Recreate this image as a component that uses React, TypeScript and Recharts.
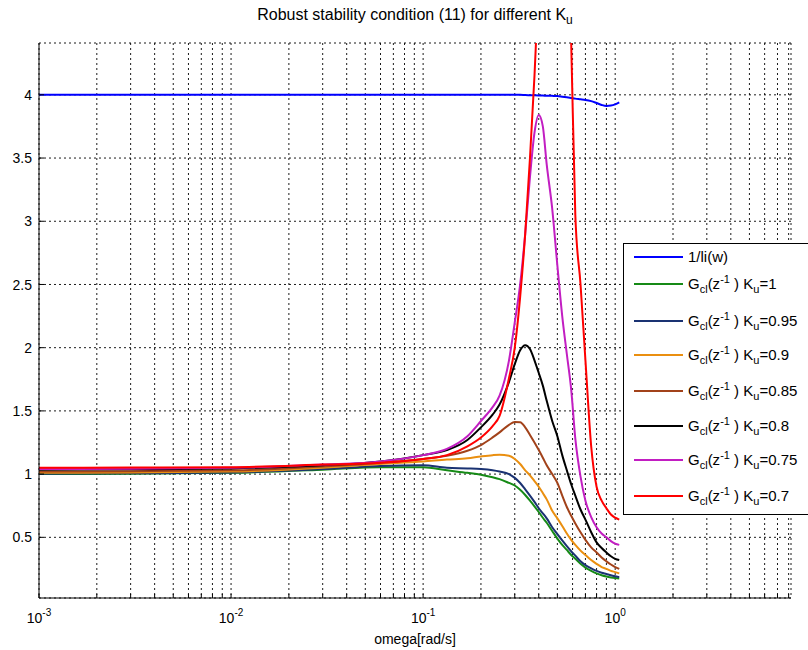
import React from 'react';
import { LineChart, Line, XAxis, YAxis, CartesianGrid } from 'recharts';

const omega = [0.001, 0.003, 0.01, 0.03, 0.06, 0.1, 0.133, 0.17, 0.2, 0.23, 0.25, 0.28, 0.3, 0.32, 0.34, 0.36, 0.38, 0.4, 0.42, 0.44, 0.47, 0.5, 0.53, 0.56, 0.59, 0.62, 0.66, 0.7, 0.75, 0.8, 0.85, 0.9, 0.95, 1.0, 1.05];

const invLi = [4, 4, 4, 4, 4, 4, 4, 4, 4, 4, 4, 4, 4, 4, 3.998, 3.997, 3.996, 3.995, 3.994, 3.993, 3.992, 3.99, 3.985, 3.98, 3.975, 3.97, 3.965, 3.96, 3.95, 3.935, 3.92, 3.912, 3.915, 3.925, 3.94];
const ku100 = [1.0, 1.003, 1.01, 1.035, 1.055, 1.055, 1.03, 1.01, 0.995, 0.975, 0.96, 0.93, 0.91, 0.876, 0.835, 0.79, 0.745, 0.7, 0.655, 0.615, 0.55, 0.49, 0.44, 0.4, 0.36, 0.33, 0.29, 0.26, 0.235, 0.215, 0.2, 0.19, 0.183, 0.178, 0.175];
const ku095 = [1.003, 1.006, 1.013, 1.04, 1.065, 1.07, 1.05, 1.045, 1.04, 1.03, 1.02, 1.0, 0.97, 0.93, 0.88, 0.83, 0.78, 0.73, 0.69, 0.65, 0.58, 0.525, 0.475, 0.43, 0.39, 0.355, 0.31, 0.28, 0.255, 0.235, 0.22, 0.21, 0.2, 0.192, 0.185];
const ku090 = [1.01, 1.013, 1.02, 1.05, 1.08, 1.1, 1.115, 1.125, 1.14, 1.15, 1.153, 1.145, 1.12, 1.08, 1.03, 0.99, 0.945, 0.9, 0.85, 0.8, 0.71, 0.65, 0.59, 0.53, 0.48, 0.44, 0.395, 0.36, 0.32, 0.29, 0.265, 0.25, 0.235, 0.225, 0.215];
const ku085 = [1.02, 1.023, 1.03, 1.06, 1.09, 1.12, 1.145, 1.185, 1.23, 1.29, 1.33, 1.39, 1.412, 1.41, 1.37, 1.31, 1.25, 1.19, 1.13, 1.07, 1.0, 0.93, 0.83, 0.74, 0.67, 0.61, 0.54, 0.48, 0.42, 0.38, 0.34, 0.31, 0.285, 0.265, 0.25];
const ku080 = [1.035, 1.038, 1.045, 1.07, 1.1, 1.15, 1.19, 1.27, 1.37, 1.47, 1.55, 1.73, 1.87, 1.98, 2.02, 1.99, 1.9, 1.8, 1.7, 1.58, 1.42, 1.3, 1.15, 1.03, 0.92, 0.83, 0.72, 0.64, 0.54, 0.46, 0.415, 0.38, 0.35, 0.33, 0.32];
const ku075 = [1.04, 1.043, 1.05, 1.075, 1.1, 1.15, 1.2, 1.3, 1.42, 1.53, 1.62, 1.9, 2.2, 2.5, 2.9, 3.35, 3.7, 3.84, 3.75, 3.45, 3.1, 2.65, 2.25, 1.95, 1.67, 1.28, 0.98, 0.79, 0.66, 0.58, 0.53, 0.5, 0.47, 0.45, 0.44];
const ku070 = [1.05, 1.052, 1.055, 1.075, 1.09, 1.12, 1.15, 1.22, 1.29, 1.38, 1.46, 1.76, 2.0, 2.4, 2.9, 3.5, 4.15, 4.9, 5.8, 6.8, 8.2, 8.5, 7.2, 5.6, 4.42, 3.05, 2.5, 1.9, 1.22, 0.9, 0.79, 0.73, 0.68, 0.655, 0.64];

const xTicks = [
  0.001, 0.002, 0.003, 0.004, 0.005, 0.006, 0.007, 0.008, 0.009,
  0.01, 0.02, 0.03, 0.04, 0.05, 0.06, 0.07, 0.08, 0.09,
  0.1, 0.2, 0.3, 0.4, 0.5, 0.6, 0.7, 0.8, 0.9,
  1, 2, 3, 4, 5, 6, 7, 8,
];
const yTicks = [0.5, 1, 1.5, 2, 2.5, 3, 3.5, 4];
const X_DOMAIN = [0.001, 8.23];
const Y_DOMAIN = [0.02, 4.41];

type Series = { key: string; values: number[]; color: string; ku: string | null };
const series: Series[] = [
  { key: 'invLi', values: invLi, color: '#0000ff', ku: null },
  { key: 'ku100', values: ku100, color: '#168a16', ku: '1' },
  { key: 'ku095', values: ku095, color: '#1a3272', ku: '0.95' },
  { key: 'ku090', values: ku090, color: '#ea8f10', ku: '0.9' },
  { key: 'ku085', values: ku085, color: '#a2421a', ku: '0.85' },
  { key: 'ku080', values: ku080, color: '#000000', ku: '0.8' },
  { key: 'ku075', values: ku075, color: '#c21ec2', ku: '0.75' },
  { key: 'ku070', values: ku070, color: '#ff0000', ku: '0.7' },
];

const rows = omega.map((w, i) => {
  const r: Record<string, number> = { w };
  series.forEach((s) => { r[s.key] = s.values[i]; });
  return r;
});

const FONT = '"Liberation Sans", Arial, Helvetica, sans-serif';

const isDecade = (v: number) => {
  const e = Math.round(Math.log10(v));
  return Math.abs(v - Math.pow(10, e)) < 1e-9 * Math.max(1, v) ? e : null;
};

const BottomTick = (props: any) => {
  const { x, y, payload } = props;
  const e = isDecade(payload.value);
  return (
    <g>
      <line x1={x} x2={x} y1={y} y2={y - 4} stroke="#000" strokeWidth={1} />
      {e !== null && (
        <text x={x} y={y + 25} textAnchor="middle" fontSize={14} fontFamily={FONT} fill="#000">
          10<tspan dy={-7} fontSize={10}>{String(e)}</tspan>
        </text>
      )}
    </g>
  );
};

const TopTick = (props: any) => {
  const { x, y } = props;
  return <line x1={x} x2={x} y1={y} y2={y + 4} stroke="#000" strokeWidth={1} />;
};

const LeftTick = (props: any) => {
  const { x, y, payload } = props;
  return (
    <g>
      <line x1={x} x2={x + 5} y1={y} y2={y} stroke="#000" strokeWidth={1} />
      <text x={x - 7} y={y} dy="0.36em" textAnchor="end" fontSize={14} fontFamily={FONT} fill="#000">
        {String(payload.value)}
      </text>
    </g>
  );
};

const RightTick = (props: any) => {
  const { x, y } = props;
  return <line x1={x} x2={x - 5} y1={y} y2={y} stroke="#000" strokeWidth={1} />;
};

const Gcl = ({ ku }: { ku: string }) => (
  <span>
    G<span style={{ fontSize: 11, position: 'relative', top: 4 }}>cl</span>(z
    <span style={{ fontSize: 11, position: 'relative', top: -6 }}>-1</span> ) K
    <span style={{ fontSize: 11, position: 'relative', top: 4 }}>u</span>={ku}
  </span>
);

const legendRows = [256, 283, 320, 354, 390, 425, 459, 495];

export default function App() {
  return (
    <div style={{ position: 'absolute', left: 0, top: 0, width: 808, height: 650, background: '#fff', fontFamily: FONT, overflow: 'hidden' }}>
      <LineChart
        width={808}
        height={650}
        data={rows}
        margin={{ top: 43, right: 17, left: 0, bottom: 0 }}
      >
        <CartesianGrid stroke="#000" strokeWidth={0.9} strokeDasharray="2 3" />
        <XAxis
          dataKey="w"
          type="number"
          scale="log"
          domain={X_DOMAIN}
          allowDataOverflow
          ticks={xTicks}
          interval={0}
          height={52}
          tickSize={0}
          tickMargin={0}
          tickLine={false}
          axisLine={{ stroke: '#000', strokeWidth: 1 }}
          tick={<BottomTick />}
        />
        <XAxis
          xAxisId="top"
          orientation="top"
          dataKey="w"
          type="number"
          scale="log"
          domain={X_DOMAIN}
          allowDataOverflow
          ticks={xTicks}
          interval={0}
          height={0}
          tickSize={0}
          tickMargin={0}
          tickLine={false}
          axisLine={{ stroke: '#000', strokeWidth: 1 }}
          tick={<TopTick />}
        />
        <YAxis
          type="number"
          domain={Y_DOMAIN}
          allowDataOverflow
          ticks={yTicks}
          interval={0}
          width={39}
          tickSize={0}
          tickMargin={0}
          tickLine={false}
          axisLine={{ stroke: '#000', strokeWidth: 1 }}
          tick={<LeftTick />}
        />
        <YAxis
          yAxisId="right"
          orientation="right"
          type="number"
          domain={Y_DOMAIN}
          allowDataOverflow
          ticks={yTicks}
          interval={0}
          width={0}
          tickSize={0}
          tickMargin={0}
          tickLine={false}
          axisLine={{ stroke: '#000', strokeWidth: 1 }}
          tick={<RightTick />}
        />
        {series.map((s) => (
          <Line
            key={s.key}
            type="monotone"
            dataKey={s.key}
            stroke={s.color}
            strokeWidth={2}
            dot={false}
            activeDot={false}
            isAnimationActive={false}
          />
        ))}
      </LineChart>

      <div style={{ position: 'absolute', left: 415, top: 6, transform: 'translateX(-50%)', fontSize: 16, lineHeight: '18px', whiteSpace: 'nowrap', color: '#000' }}>
        Robust stability condition (11) for different K
        <span style={{ fontSize: 12, position: 'relative', top: 4 }}>u</span>
      </div>

      <div style={{ position: 'absolute', left: 415, top: 631, transform: 'translateX(-50%)', fontSize: 14, lineHeight: '16px', whiteSpace: 'nowrap', color: '#000' }}>
        omega[rad/s]
      </div>

      <div style={{ position: 'absolute', left: 623, top: 243, width: 185, height: 272, boxSizing: 'border-box', border: '1px solid #000', borderRight: 'none', background: '#fff' }}>
        {series.map((s, i) => (
          <div key={s.key} style={{ position: 'absolute', left: 0, top: legendRows[i] - 243 - 9, height: 18, width: 185 }}>
            <div style={{ position: 'absolute', left: 10, top: 8, width: 49, height: 2, background: s.color }} />
            <div style={{ position: 'absolute', left: 64, top: 0, fontSize: 15, lineHeight: '18px', whiteSpace: 'nowrap', color: '#000' }}>
              {s.ku === null ? '1/li(w)' : <Gcl ku={s.ku} />}
            </div>
          </div>
        ))}
      </div>
    </div>
  );
}
